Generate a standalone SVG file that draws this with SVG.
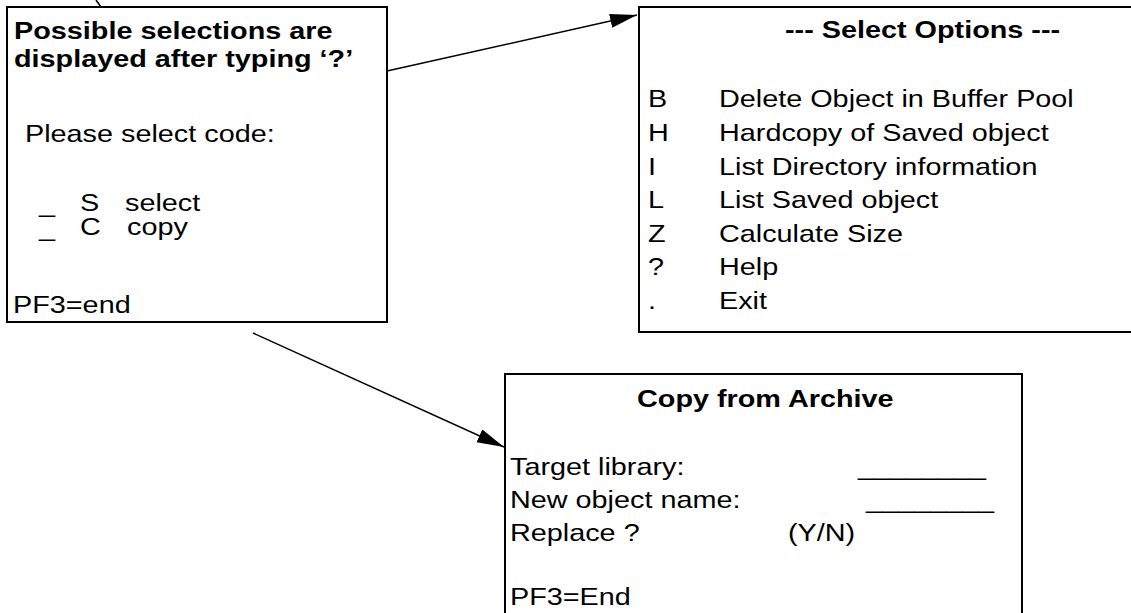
<svg xmlns="http://www.w3.org/2000/svg" width="1131" height="613" viewBox="0 0 1131 613">
<style>
.box{fill:#fff;stroke:#000;stroke-width:2}
.t{font-family:"Liberation Sans",Arial,sans-serif;font-size:24px;fill:#000}
.b{font-weight:bold}
.c{stroke:#000;stroke-width:1.5;fill:none}
</style>
<defs>
<marker id="ah" markerUnits="userSpaceOnUse" markerWidth="28" markerHeight="16" refX="27" refY="7" orient="auto">
<path d="M0,0 L27,7 L0,14 Z" fill="#000"/>
</marker>
</defs>
<rect width="1131" height="613" fill="#fff"/>
<g id="connectors">
<line class="c" x1="96" y1="0" x2="101" y2="7"/>
<line class="c" x1="387" y1="71" x2="637" y2="15" marker-end="url(#ah)"/>
<line class="c" x1="253" y1="333" x2="504" y2="447" marker-end="url(#ah)"/>
</g>
<g id="node-prompt">
<rect class="box" x="7" y="7" width="380" height="315"/>
<text class="t b" transform="translate(14 39) scale(1.2 1)">Possible selections are</text>
<text class="t b" transform="translate(14 67) scale(1.2 1)">displayed after typing ‘?’</text>
<text class="t" transform="translate(25 142) scale(1.2 1)">Please select code:</text>
<text class="t" transform="translate(39 212) scale(1.2 1)">_</text>
<text class="t" transform="translate(80 211) scale(1.2 1)">S</text>
<text class="t" transform="translate(125 211) scale(1.2 1)">select</text>
<text class="t" transform="translate(39 236) scale(1.2 1)">_</text>
<text class="t" transform="translate(80 235) scale(1.2 1)">C</text>
<text class="t" transform="translate(127 235) scale(1.2 1)">copy</text>
<text class="t" transform="translate(13 313) scale(1.2 1)">PF3=end</text>
</g>
<g id="node-options">
<rect class="box" x="639" y="7" width="500" height="325"/>
<text class="t b" transform="translate(785 38) scale(1.2 1)">--- Select Options ---</text>
<text class="t" transform="translate(648 107) scale(1.2 1)">B</text>
<text class="t" transform="translate(719 107) scale(1.2 1)">Delete Object in Buffer Pool</text>
<text class="t" transform="translate(648 141) scale(1.2 1)">H</text>
<text class="t" transform="translate(719 141) scale(1.2 1)">Hardcopy of Saved object</text>
<text class="t" transform="translate(648 175) scale(1.2 1)">I</text>
<text class="t" transform="translate(719 175) scale(1.2 1)">List Directory information</text>
<text class="t" transform="translate(648 208) scale(1.2 1)">L</text>
<text class="t" transform="translate(719 208) scale(1.2 1)">List Saved object</text>
<text class="t" transform="translate(648 242) scale(1.2 1)">Z</text>
<text class="t" transform="translate(719 242) scale(1.2 1)">Calculate Size</text>
<text class="t" transform="translate(648 275) scale(1.2 1)">?</text>
<text class="t" transform="translate(719 275) scale(1.2 1)">Help</text>
<text class="t" transform="translate(648 309) scale(1.2 1)">.</text>
<text class="t" transform="translate(719 309) scale(1.2 1)">Exit</text>
</g>
<g id="node-copy">
<rect class="box" x="505" y="374" width="517" height="250"/>
<text class="t b" transform="translate(637 407) scale(1.2 1)">Copy from Archive</text>
<text class="t" transform="translate(510 475) scale(1.2 1)">Target library:</text>
<text class="t" transform="translate(858 475) scale(1.2 1)">________</text>
<text class="t" transform="translate(510 508) scale(1.2 1)">New object name:</text>
<text class="t" transform="translate(866 508) scale(1.2 1)">________</text>
<text class="t" transform="translate(510 541) scale(1.2 1)">Replace ?</text>
<text class="t" transform="translate(788 541) scale(1.2 1)">(Y/N)</text>
<text class="t" transform="translate(510 605) scale(1.2 1)">PF3=End</text>
</g>
</svg>
